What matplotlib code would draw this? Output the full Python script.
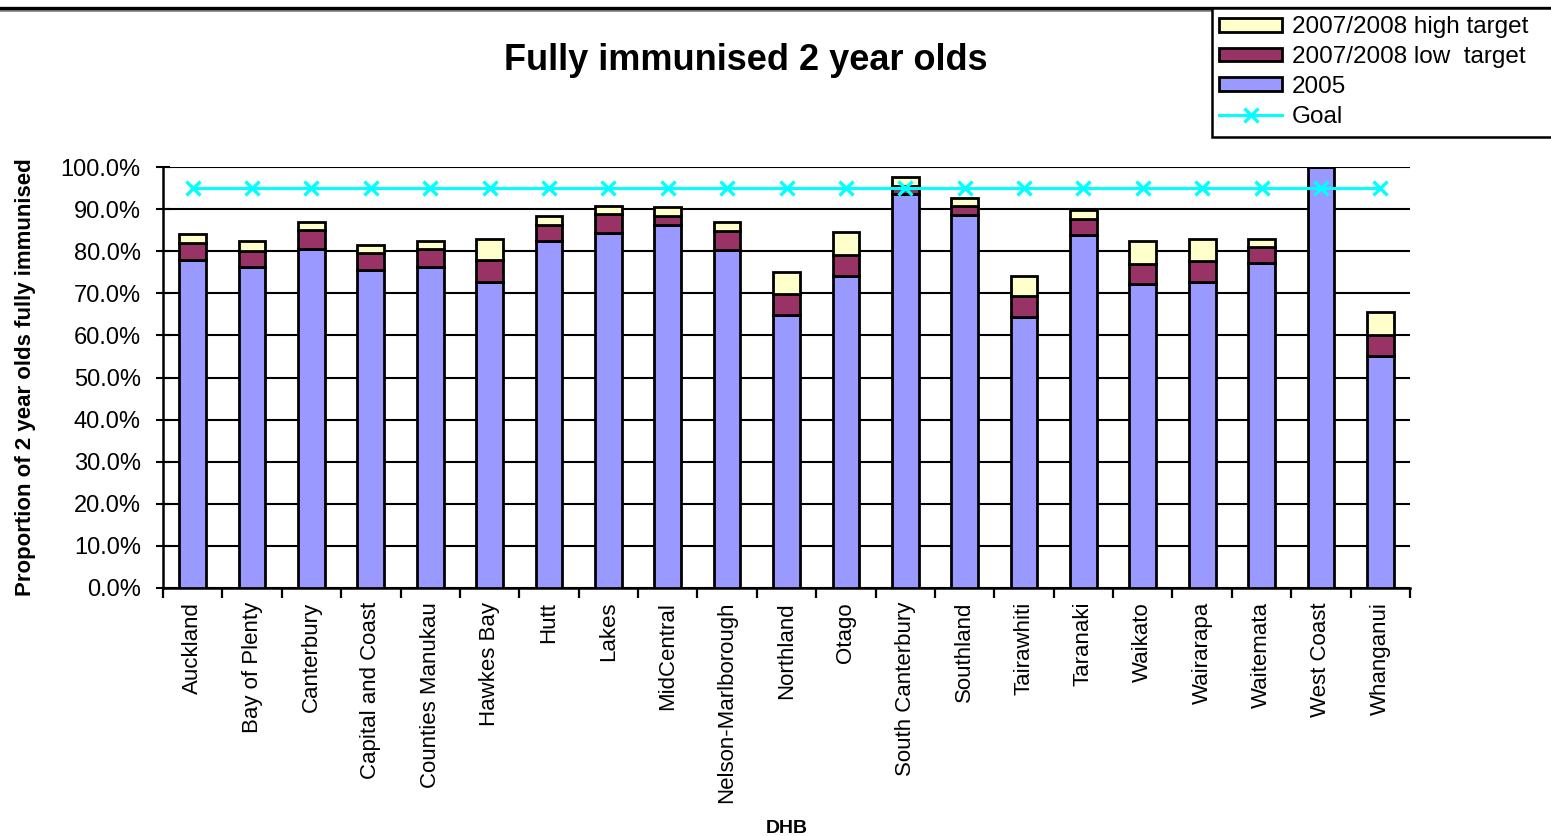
import matplotlib
matplotlib.use("Agg")
import matplotlib.pyplot as plt
from matplotlib.lines import Line2D
from matplotlib.patches import Rectangle
from matplotlib.ticker import FuncFormatter, MultipleLocator
import numpy as np

plt.rcParams['font.family'] = ['Liberation Sans', 'DejaVu Sans']

# District Health Boards
dhbs = ["Auckland", "Bay of Plenty", "Canterbury", "Capital and Coast",
        "Counties Manukau", "Hawkes Bay", "Hutt", "Lakes", "MidCentral",
        "Nelson-Marlborough", "Northland", "Otago", "South Canterbury",
        "Southland", "Tairawhiti", "Taranaki", "Waikato", "Wairarapa",
        "Waitemata", "West Coast", "Whanganui"]

# Coverage in 2005 (%)
cov_2005 = [78.0, 76.2, 80.5, 75.6, 76.2, 72.7, 82.5, 84.4, 86.2, 80.4,
            64.8, 74.1, 93.6, 88.7, 64.4, 83.8, 72.1, 72.6, 77.1, 100.0, 55.0]
# 2007/2008 low target (%)
low_target = [82.0, 80.0, 85.0, 79.5, 80.5, 78.0, 86.3, 88.8, 88.4, 84.9,
              69.8, 79.0, 95.6, 90.7, 69.3, 87.7, 77.0, 77.6, 81.0, 100.0, 60.0]
# 2007/2008 high target (%)
high_target = [84.0, 82.5, 87.0, 81.5, 82.5, 83.0, 88.3, 90.8, 90.4, 86.9,
               75.1, 84.5, 97.6, 92.7, 74.2, 89.7, 82.4, 83.0, 83.0, 100.0, 65.5]
# National goal (%)
goal = [95.0] * len(dhbs)

c_2005 = "#9999FF"
c_low = "#993366"
c_high = "#FFFFCC"
c_goal = "#00FFFF"

W, H = 1551, 836
fig = plt.figure(figsize=(W / 100, H / 100), dpi=100)
ax = fig.add_axes([163 / W, 1 - 588 / H, (1410 - 163) / W, (588 - 167) / H])

x = np.arange(len(dhbs))
base = np.array(cov_2005)
seg_low = np.array(low_target) - base
seg_high = np.array(high_target) - np.array(low_target)

width = 0.45
ec = dict(edgecolor="black", linewidth=2.0)
b1 = ax.bar(x, base, width, color=c_2005, label="2005", zorder=3, **ec)
b2 = ax.bar(x, seg_low, width, bottom=base, color=c_low,
            label="2007/2008 low  target", zorder=3, **ec)
b3 = ax.bar(x, seg_high, width, bottom=np.array(low_target), color=c_high,
            label="2007/2008 high target", zorder=3, **ec)
gl, = ax.plot(x, goal, color=c_goal, marker="x", markersize=10,
              markeredgewidth=2.4, linewidth=2.2, label="Goal", zorder=4)

ax.set_xlim(-0.5, len(dhbs) - 0.5)
ax.set_ylim(0, 100)
ax.yaxis.set_major_locator(MultipleLocator(10))
ax.yaxis.set_major_formatter(FuncFormatter(lambda v, p: f"{v:.1f}%"))
ax.grid(axis="y", color="black", linewidth=1.5, zorder=0)
ax.set_axisbelow(True)

ax.set_xticks(x)
ax.set_xticklabels(dhbs, rotation=90, fontsize=16)
ax.set_xticks(np.arange(-0.5, len(dhbs)), minor=True)
ax.tick_params(axis="x", which="major", length=0, pad=10)
ax.tick_params(axis="x", which="minor", length=7, width=1.6, direction="out")
ax.tick_params(axis="y", which="major", length=10, width=1.5, direction="inout",
               labelsize=17, pad=11)

for s in ("top", "right"):
    ax.spines[s].set_visible(False)
for s in ("left", "bottom"):
    ax.spines[s].set_linewidth(1.8)

ax.set_ylabel("Proportion of 2 year olds fully immunised", fontsize=16,
              fontweight="bold", labelpad=18)
ax.set_xlabel("DHB", fontsize=14, fontweight="bold", labelpad=12)

fig.text(746 / W, 1 - 61 / H, "Fully immunised 2 year olds",
         fontsize=26, fontweight="bold", ha="center", va="center")

# frame line along the top of the chart area
fig.add_artist(Line2D([0, 1], [1 - 10 / H, 1 - 10 / H], color="#888888",
                      linewidth=2, transform=fig.transFigure))
fig.add_artist(Line2D([0, 1], [1 - 8 / H, 1 - 8 / H], color="black",
                      linewidth=2.4, transform=fig.transFigure))

# legend box, running past the right edge of the figure
fig.add_artist(Rectangle((1212 / W, 1 - 137 / H), (1600 - 1212) / W, (137 - 8) / H,
                         transform=fig.transFigure, facecolor="white",
                         edgecolor="black", linewidth=1.8, zorder=5))
leg = fig.legend(handles=[b3, b2, b1, gl],
                 labels=["2007/2008 high target", "2007/2008 low  target",
                         "2005", "Goal"],
                 loc="upper left", bbox_to_anchor=(1212 / W, 1 - 9 / H),
                 fontsize=17.5, frameon=False,
                 handlelength=2.6, handleheight=0.5, labelspacing=0.32,
                 handletextpad=0.4, borderpad=0.3, borderaxespad=0)
leg.set_zorder(6)

fig.savefig("out.png", dpi=100, facecolor="white")
